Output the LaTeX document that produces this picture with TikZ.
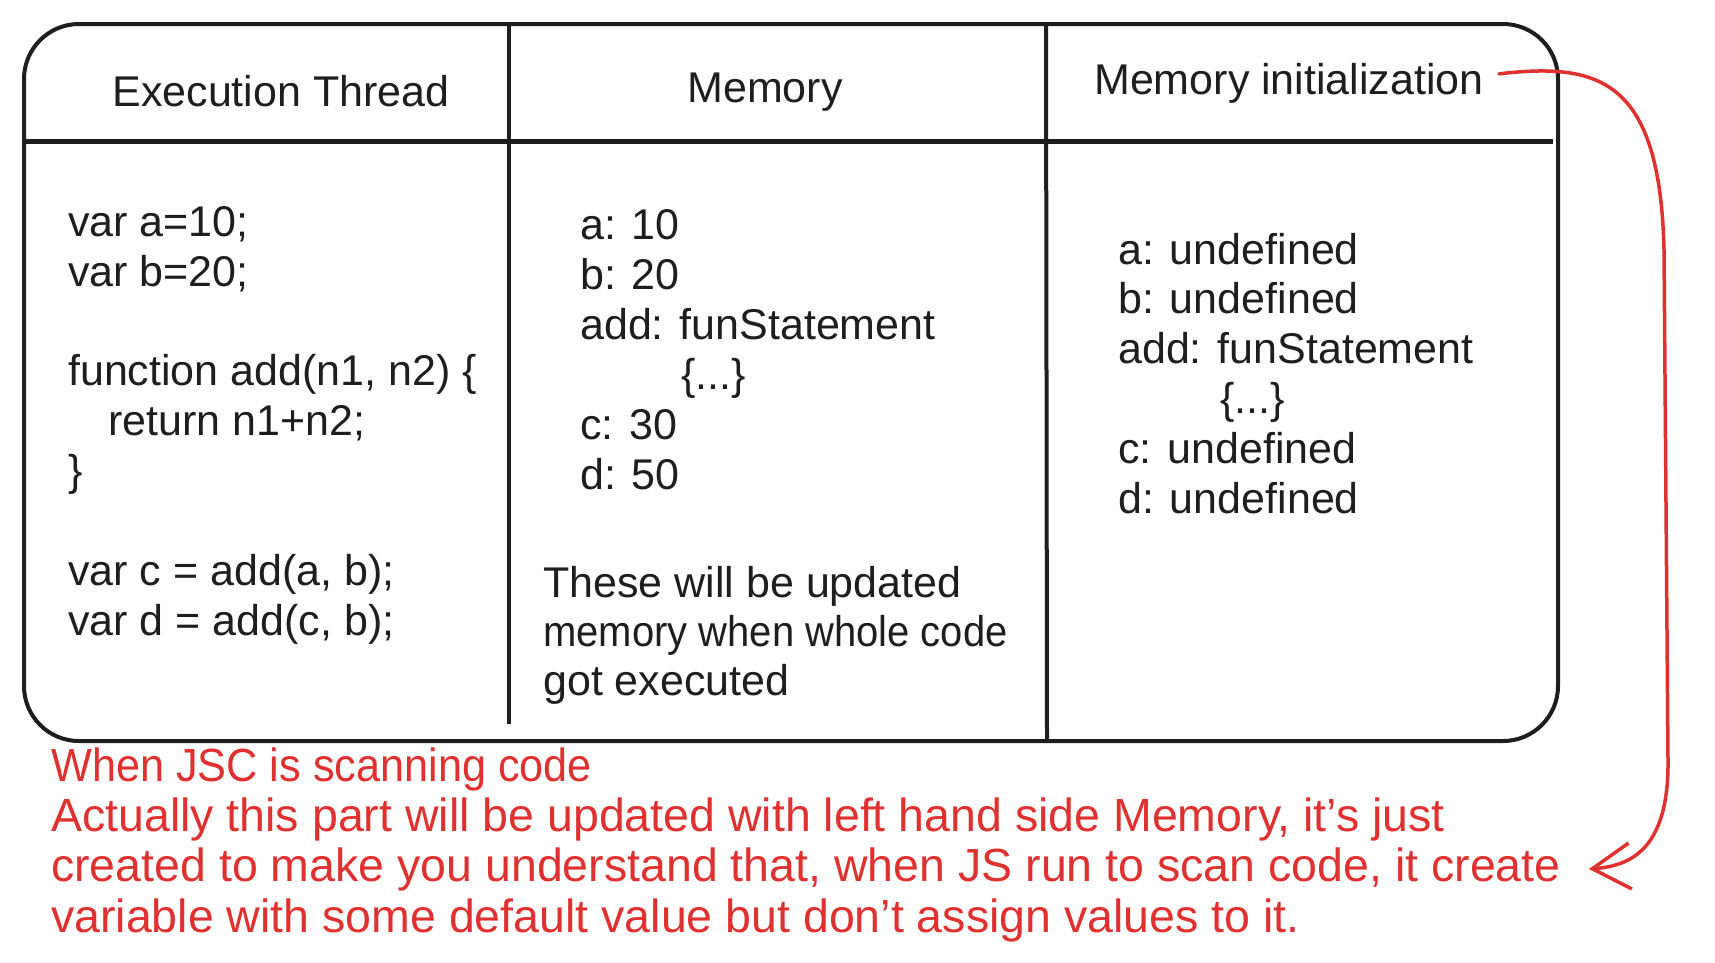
\documentclass[tikz,border=0pt]{standalone}
\usepackage{fontspec}
\setmainfont{Liberation Sans}
\usetikzlibrary{arrows.meta}
\definecolor{ink}{HTML}{1E1E1E}
\definecolor{redink}{HTML}{E03131}
\begin{document}
\begin{tikzpicture}[x=1pt,y=-1pt,
  txt/.style={font=\fontsize{43}{50}\selectfont, text=ink, inner sep=0pt, anchor=base west},
  head/.style={txt, anchor=base},
  note/.style={txt, font=\fontsize{46.5}{50}\selectfont, text=redink},
  rule/.style={draw=ink, line width=4pt},
  arrowred/.style={draw=redink, line width=3.5pt, line cap=round, line join=round,
    -{Straight Barb[length=38pt,width=46pt,line width=3.5pt]}}]
\useasboundingbox (0,0) rectangle (1715,962);
\node[draw=ink, line width=4pt, rounded corners=55pt, minimum width=1534pt,
  minimum height=717pt, inner sep=0pt, anchor=north west] (table) at (22,22) {};
\draw[rule, line width=5pt] (22,141) -- (1553,141);
\draw[rule] (509,22) -- (509,724);
\draw[rule] (1046,22) -- (1047,739);
% headers
\node[head] (h1) at (281,106) {Execution Thread};
\node[head] (h2) at (765,102) {Memory};
\node[head] (h3) at (1289,94) {Memory initialization};
% code
\node[txt] (c1) at (68,236) {var a=10;};
\node[txt] (c2) at (68,286) {var b=20;};
\node[txt] (c3) at (68,385) {function add(n1, n2) \{};
\node[txt] (c4) at (108,435) {return n1+n2;};
\node[txt] (c5) at (68,485) {\}};
\node[txt] (c6) at (68,585) {var c = add(a, b);};
\node[txt] (c7) at (68,635) {var d = add(c, b);};
% memory
\node[txt] (m1) at (580,239) {a: 10};
\node[txt] (m2) at (580,289) {b: 20};
\node[txt] (m3) at (580,339) {add: funStatement};
\node[txt] (m4) at (681,389) {\{...\}};
\node[txt] (m5) at (580,439) {c: 30};
\node[txt] (m6) at (580,489) {d: 50};
\node[txt] (n1) at (543,597) {These will be updated};
\node[txt] (n2) at (543,646) {\scalebox{0.93}[1]{memory when whole code}};
\node[txt] (n3) at (543,695) {got executed};
% memory initialization
\node[txt] (i1) at (1118,264) {a: undefined};
\node[txt] (i2) at (1118,313) {b: undefined};
\node[txt] (i3) at (1118,363) {add: funStatement};
\node[txt] (i4) at (1220,413) {\{...\}};
\node[txt] (i5) at (1118,463) {c: undefined};
\node[txt] (i6) at (1118,513) {d: undefined};
% red notes
\node[note] (r1) at (51,781) {\scalebox{0.93}[1]{When JSC is scanning code}};
\node[note] (r2) at (51,831) {Actually this part will be updated with left hand side Memory, it's just};
\node[note] (r3) at (51,881) {created to make you understand that, when JS run to scan code, it create};
\node[note] (r4) at (51,932) {variable with some default value but don't assign values to it.};
% arrow
\draw[arrowred] ([shift={(15,-9)}]h3.east) .. controls (1600,62) and (1660,80) .. (1664,250)
  -- (1668,760) .. controls (1669,850) and (1630,866) .. ([shift={(28,0)}]r3.east);
\end{tikzpicture}
\end{document}
